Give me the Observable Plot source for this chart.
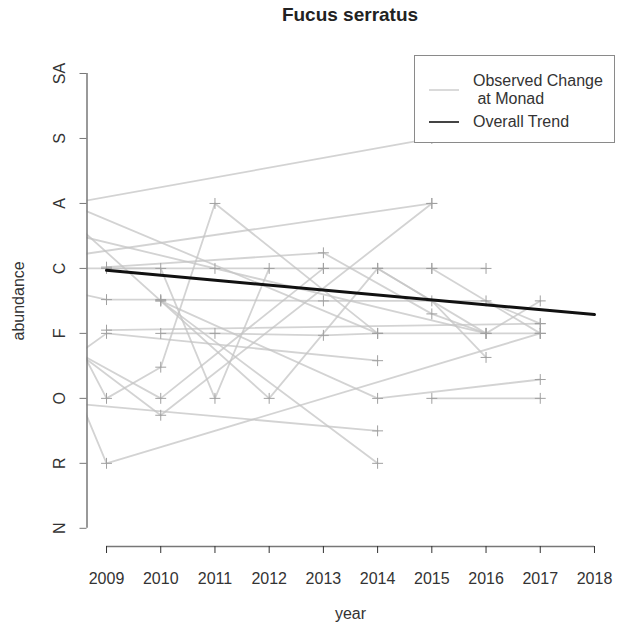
<!DOCTYPE html>
<html><head><meta charset="utf-8">
<script src="https://cdn.jsdelivr.net/npm/d3@7"></script>
<script src="https://cdn.jsdelivr.net/npm/@observablehq/plot@0.6"></script>
<style>
body{margin:0;background:#fff;font-family:"Liberation Sans",Arial,sans-serif;}
#wrap{position:relative;width:619px;height:624px;overflow:hidden;}
#title{position:absolute;left:200px;width:300px;top:3px;text-align:center;font-weight:bold;font-size:19px;line-height:24px;color:#222;}
#chart{position:absolute;left:0;top:30px;}
#legend{position:absolute;left:414px;top:55px;width:199px;height:86px;border:1px solid #8a8a8a;background:#fff;font-size:16px;color:#333;}
#legend .t{position:absolute;line-height:18px;white-space:pre;}
#legend .l{position:absolute;left:14px;width:30px;height:0;}
</style></head><body>
<div id="wrap">
  <div id="title"></div>
  <div id="chart"></div>
  <div id="legend"></div>
</div>
<script>
// ---- data ----
const chartTitle = "Fucus serratus";
const xLabel = "year";
const yLabel = "abundance";
const years = [2009, 2010, 2011, 2012, 2013, 2014, 2015, 2016, 2017, 2018];
const abundanceLabels = ["N", "R", "O", "F", "C", "A", "S", "SA"];
const legendLabels = ["Observed Change\n at Monad", "Overall Trend"];

// observed change at each monad: [year, abundance score]
const m01 = [[2008, 4.95], [2015, 6]];
const m02 = [[2008, 3], [2009, 1], [2017, 3]];
const m03 = [[2010, 3.5], [2014, 2], [2017, 2.29]];
const m04 = [[2015, 2], [2017, 2]];
const m05 = [[2008, 2.4], [2009, 3], [2014, 2.58]];
const m06 = [[2008, 1.95], [2014, 1.5]];
const m07 = [[2010, 3], [2011, 3], [2013, 2.97], [2014, 3], [2017, 3]];
const m08 = [[2009, 3.05], [2017, 3.15]];
const m09 = [[2009, 4.02], [2013, 4.24], [2015, 3.3], [2016, 3]];
const m10 = [[2008, 3.0], [2010, 1.74], [2015, 5]];
const m11 = [[2008, 3.6], [2009, 2], [2010, 2.48], [2011, 5], [2014, 3]];
const m12 = [[2009, 4], [2010, 4], [2011, 2], [2012, 4]];
const m13 = [[2008, 5], [2012, 2], [2014, 4]];
const m14 = [[2010, 3.5], [2014, 1]];
const m15 = [[2008, 4.15], [2015, 5]];
const m16 = [[2008, 5.1], [2014, 3]];
const m17 = [[2014, 4], [2015, 3.5], [2016, 2.63]];
const m18 = [[2008, 2.92], [2010, 2], [2013, 4]];
const m19 = [[2014, 4], [2016, 3], [2017, 3.5]];
const m20 = [[2015, 4], [2017, 3]];
const m21 = [[2008, 3.7], [2009, 3.52], [2010, 3.52], [2013, 3.5], [2016, 3.5], [2017, 3.15]];
const m22 = [[2008, 4], [2011, 4], [2013, 4], [2014, 4], [2015, 4], [2016, 4]];
const m23 = [[2008, 4.6], [2016, 3]];
const monads = [m01, m02, m03, m04, m05, m06, m07, m08, m09, m10, m11, m12, m13, m14, m15, m16, m17, m18, m19, m20, m21, m22, m23];

// overall trend
const trendYears = [2009, 2018];
const trendValues = [3.97, 3.29];

// ---- build ----
const obs = monads.flatMap((m, i) => m.map(([year, value]) => ({monad: i, year, value})));
const trend = trendYears.map((year, i) => ({year, value: trendValues[i]}));
const yVals = abundanceLabels.map((d, i) => i);
const pad = (a, b) => [a - 0.04 * (b - a), b + 0.04 * (b - a)];
const xDom = pad(years[0], years[years.length - 1]);
const yDom = pad(yVals[0], yVals[yVals.length - 1]);

document.getElementById("title").textContent = chartTitle;

const plot = Plot.plot({
  width: 619,
  height: 594,
  marginTop: 24.8,
  marginBottom: 78,
  marginLeft: 86.5,
  marginRight: 5.5,
  style: {fontFamily: "'Liberation Sans', Arial, sans-serif", fontSize: "16px", background: "#fff"},
  x: {domain: xDom},
  y: {domain: yDom},
  marks: [
    Plot.line(obs, {x: "year", y: "value", z: "monad", stroke: "#c4c4c4", strokeOpacity: 0.75, strokeWidth: 1.8, clip: true}),
    Plot.dot(obs, {x: "year", y: "value", symbol: "plus", r: 3.6, stroke: "#a0a0a0", strokeWidth: 1, clip: true}),
    Plot.line(trend, {x: "year", y: "value", stroke: "#111", strokeWidth: 3}),
    Plot.ruleX([xDom[0]], {y1: () => yVals[0], y2: () => yVals[yVals.length - 1], stroke: "#777", strokeWidth: 1.5}),
    Plot.ruleY([yDom[0]], {x1: () => years[0], x2: () => years[years.length - 1], stroke: "#777", strokeWidth: 1.5}),
    Plot.axisY(yVals, {tickSize: 7, tickFormat: () => "", label: null, stroke: "#777"}),
    Plot.text(yVals, {y: d => d, text: d => abundanceLabels[d], frameAnchor: "left", dx: -27, rotate: -90, textAnchor: "middle", lineAnchor: "middle", fontSize: 16, fill: "#333"}),
    Plot.axisX(years, {tickSize: 7, tickPadding: 19, tickFormat: d => String(d), label: null, fontSize: 16, color: "#333"}),
    Plot.text([yLabel], {frameAnchor: "left", dx: -68.5, rotate: -90, textAnchor: "middle", lineAnchor: "middle", fontSize: 16, fill: "#333"}),
    Plot.text([xLabel], {frameAnchor: "bottom", dy: 67, textAnchor: "middle", lineAnchor: "middle", fontSize: 16, fill: "#333"})
  ]
});
document.getElementById("chart").appendChild(plot);

// legend
const lg = document.getElementById("legend");
const items = [
  {label: legendLabels[0], color: "#dadada", width: 2, lineY: 34, textTop: 16},
  {label: legendLabels[1], color: "#444", width: 2, lineY: 66, textTop: 57}
];
items.forEach(it => {
  const l = document.createElement("div");
  l.className = "l";
  l.style.top = (it.lineY - it.width / 2) + "px";
  l.style.borderTop = it.width + "px solid " + it.color;
  lg.appendChild(l);
  const t = document.createElement("div");
  t.className = "t";
  t.style.left = "58px";
  t.style.top = it.textTop + "px";
  t.textContent = it.label;
  lg.appendChild(t);
});
</script>
</body></html>
